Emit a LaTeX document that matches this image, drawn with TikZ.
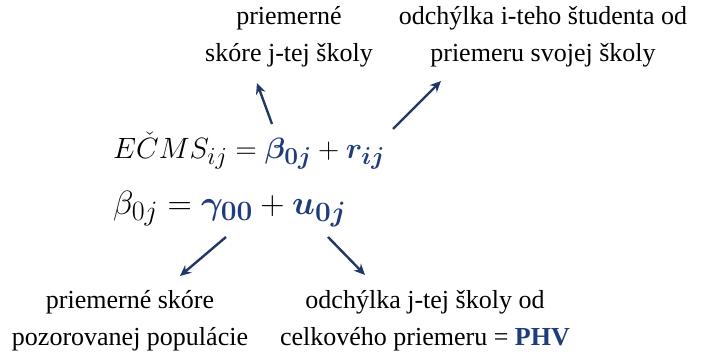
\documentclass[tikz,border=0pt]{standalone}
\usepackage{amsmath}
\usepackage{graphicx}
\usepackage{bm}
\usepackage{fontspec}
\setmainfont{Liberation Serif}
\usetikzlibrary{arrows.meta}
\definecolor{navy}{HTML}{1F3864}
\definecolor{mblue}{HTML}{1F3D7A}
\newcommand{\bigeq}[2]{\scalebox{#1}{\fontsize{24.88}{30}\selectfont$#2$}}
\tikzset{
  lbl/.style={align=center, font=\fontsize{26}{37}\selectfont, inner sep=0pt},
  eqn/.style={anchor=west, inner sep=0pt},
  arr/.style={draw=navy, line width=2.4pt, -{Stealth[length=11pt,width=10pt]}}
}
\begin{document}
\begin{tikzpicture}[x=1pt,y=-1pt]
\useasboundingbox (0,0) rectangle (702,356);
\node[eqn] (eq1) at (113,151) {\bigeq{1.18}{E\check{C}MS_{ij} = \textcolor{mblue}{\bm{\beta_{0j}}} + \textcolor{mblue}{\bm{r_{ij}}}}};
\node[eqn] (eq2) at (113,209) {\bigeq{1.35}{\beta_{0j} = \textcolor{mblue}{\bm{\gamma_{00}}} + \textcolor{mblue}{\bm{u_{0j}}}}};
\node[lbl] (tl) at (289,37) {priemerné\\skóre j-tej školy};
\node[lbl] (tr) at (543,37) {odchýlka i-teho študenta od\\priemeru svojej školy};
\node[lbl] (bl) at (130,321) {priemerné skóre\\pozorovanej populácie};
\node[lbl] (br) at (425,321) {odchýlka j-tej školy od\\celkového priemeru = \textbf{\textcolor{mblue}{PHV}}};
\coordinate (a1s) at (272,124);
\coordinate (a1e) at (257,83);
\coordinate (a2s) at (393,129);
\coordinate (a2e) at (441,81);
\coordinate (a3s) at (226,237);
\coordinate (a3e) at (180,276);
\coordinate (a4s) at (328,237);
\coordinate (a4e) at (365,275);
\draw[arr] (a1s) -- (a1e);
\draw[arr] (a2s) -- (a2e);
\draw[arr] (a3s) -- (a3e);
\draw[arr] (a4s) -- (a4e);
\end{tikzpicture}
\end{document}
